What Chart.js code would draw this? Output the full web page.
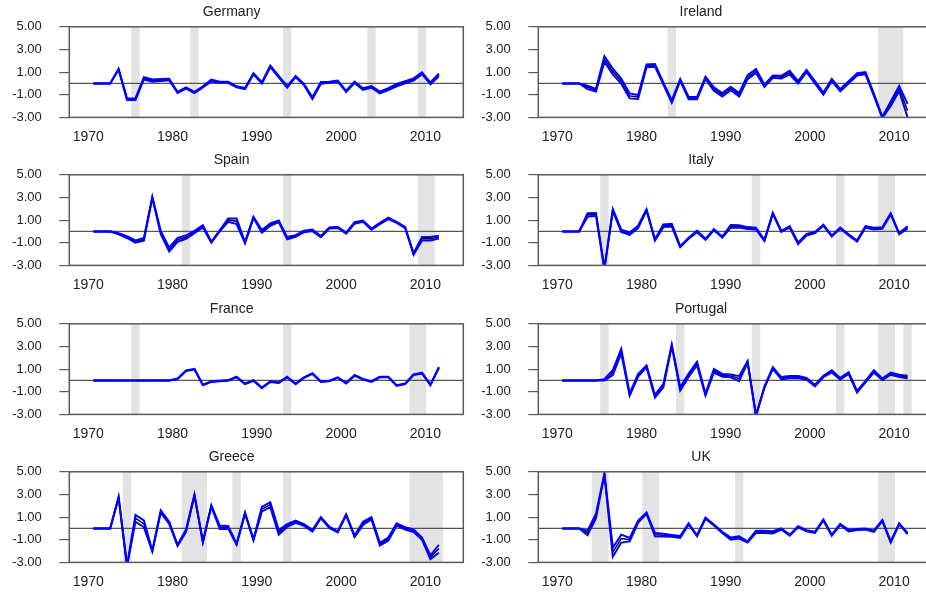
<!DOCTYPE html>
<html>
<head>
<meta charset="utf-8">
<script src="https://cdn.jsdelivr.net/npm/chart.js@4.4.1/dist/chart.umd.min.js"></script>
<style>
  html, body { margin: 0; padding: 0; background: #fff; }
  #wrap { position: relative; width: 926px; height: 594px; overflow: hidden; }
  #wrap canvas { position: absolute; }
</style>
</head>
<body>
<div id="wrap"></div>
<script>
// data
const years = [1971, 1972, 1973, 1974, 1975, 1976, 1977, 1978, 1979, 1980,
  1981, 1982, 1983, 1984, 1985, 1986, 1987, 1988, 1989, 1990,
  1991, 1992, 1993, 1994, 1995, 1996, 1997, 1998, 1999, 2000,
  2001, 2002, 2003, 2004, 2005, 2006, 2007, 2008, 2009, 2010,
  2011, 2012];
const xTickLabels = [1970, 1980, 1990, 2000, 2010];
const countries = ['Germany', 'Ireland', 'Spain', 'Italy', 'France', 'Portugal', 'Greece', 'UK'];

// centre line of each panel
const germany = [0, 0, 0, 1.25, -1.4, -1.4, 0.45, 0.25, 0.3, 0.35,
  -0.8, -0.4, -0.8, -0.3, 0.25, 0.1, 0.1, -0.3, -0.45, 0.85,
  0.05, 1.5, 0.6, -0.3, 0.6, -0.1, -1.3, 0.05, 0.1, 0.2,
  -0.7, 0.1, -0.5, -0.3, -0.8, -0.5, -0.15, 0.1, 0.35, 0.9,
  0.0, 0.75];
const ireland = [0, 0, 0, -0.35, -0.6, 2.15, 1.05, 0.2, -1.1, -1.2,
  1.55, 1.6, 0.0, -1.6, 0.3, -1.3, -1.3, 0.5, -0.5, -1.0,
  -0.45, -1.0, 0.55, 1.1, -0.2, 0.6, 0.55, 0.95, 0.1, 1.1,
  0.1, -0.9, 0.3, -0.6, 0.1, 0.8, 0.9, -1.0, -3.0, -1.8,
  -0.45, -2.4];
const spain = [0, 0, 0, -0.2, -0.5, -0.9, -0.7, 3.0, -0.1, -1.6,
  -0.75, -0.5, -0.05, 0.45, -0.95, 0.05, 1.0, 0.9, -1.0, 1.25,
  0.0, 0.6, 0.9, -0.6, -0.4, 0.0, 0.1, -0.45, 0.3, 0.35,
  -0.15, 0.75, 0.9, 0.2, 0.7, 1.15, 0.8, 0.35, -2.0, -0.65,
  -0.65, -0.5];
const italy = [0, 0, 0, 1.45, 1.5, -3.3, 1.9, 0.05, -0.2, 0.4,
  1.9, -0.75, 0.5, 0.55, -1.35, -0.6, 0.0, -0.7, 0.15, -0.5,
  0.45, 0.45, 0.3, 0.25, -0.8, 1.6, 0.0, 0.4, -1.05, -0.3,
  -0.1, 0.55, -0.4, 0.3, -0.3, -0.85, 0.4, 0.25, 0.3, 1.55,
  -0.2, 0.35];
const france = [0, 0, 0, 0, 0, 0, 0, 0, 0, 0,
  0.15, 0.85, 1.0, -0.4, -0.1, -0.05, 0.0, 0.3, -0.3, 0.0,
  -0.65, -0.1, -0.2, 0.3, -0.3, 0.25, 0.6, -0.1, -0.05, 0.25,
  -0.25, 0.45, 0.1, -0.1, 0.3, 0.3, -0.45, -0.3, 0.5, 0.65,
  -0.4, 1.15];
const portugal = [0, 0, 0, 0, 0, 0.05, 0.7, 2.6, -1.25, 0.45,
  1.25, -1.4, -0.45, 3.1, -0.75, 0.45, 1.5, -1.25, 0.85, 0.45,
  0.4, 0.15, 1.65, -3.1, -0.6, 1.1, 0.2, 0.3, 0.3, 0.15,
  -0.45, 0.35, 0.8, 0.15, 0.65, -1.0, -0.1, 0.8, 0.1, 0.6,
  0.4, 0.3];
const greece = [0, 0, 0, 2.75, -3.3, 0.9, 0.4, -2.0, 1.5, 0.5,
  -1.5, -0.2, 2.95, -1.2, 2.0, 0.1, 0.1, -1.4, 1.35, -1.0,
  1.7, 2.1, -0.35, 0.25, 0.6, 0.3, -0.2, 0.95, 0.1, -0.3,
  1.2, -0.7, 0.45, 0.9, -1.4, -0.95, 0.35, 0.0, -0.2, -0.9,
  -2.55, -1.8];
const uk = [0, 0, 0, -0.4, 1.1, 4.8, -2.1, -0.9, -1.0, 0.6,
  1.35, -0.55, -0.6, -0.65, -0.75, 0.4, -0.65, 0.9, 0.3, -0.35,
  -0.9, -0.8, -1.2, -0.3, -0.3, -0.35, -0.05, -0.6, 0.15, -0.2,
  -0.35, 0.75, -0.6, 0.35, -0.2, -0.1, -0.05, -0.25, 0.7, -1.2,
  0.4, -0.45];

// half width of the blue band around each centre line
const germanyBand = [0, 0, 0, 0.05, 0.07, 0.07, 0.1, 0.1, 0.08, 0.06,
  0.05, 0.05, 0.05, 0.05, 0.08, 0.05, 0.05, 0.05, 0.05, 0.05,
  0.05, 0.07, 0.07, 0.07, 0.05, 0.05, 0.07, 0.07, 0.05, 0.05,
  0.05, 0.05, 0.07, 0.07, 0.07, 0.08, 0.1, 0.1, 0.1, 0.08,
  0.08, 0.12];
const irelandBand = [0, 0, 0, 0.15, 0.12, 0.25, 0.25, 0.22, 0.22, 0.18,
  0.12, 0.12, 0.1, 0.1, 0.08, 0.1, 0.1, 0.1, 0.15, 0.15,
  0.15, 0.15, 0.17, 0.17, 0.1, 0.1, 0.12, 0.17, 0.1, 0.1,
  0.1, 0.1, 0.1, 0.1, 0.1, 0.1, 0.1, 0.1, 0.05, 0.2,
  0.22, 0.6];
const spainBand = [0, 0, 0.02, 0.05, 0.08, 0.1, 0.12, 0.05, 0.15, 0.17,
  0.17, 0.15, 0.1, 0.1, 0.05, 0.05, 0.15, 0.25, 0.05, 0.05,
  0.12, 0.1, 0.07, 0.1, 0.07, 0.07, 0.07, 0.05, 0.05, 0.05,
  0.05, 0.07, 0.05, 0.05, 0.05, 0.07, 0.05, 0.05, 0.07, 0.15,
  0.15, 0.12];
const italyBand = [0, 0, 0, 0.15, 0.12, 0.05, 0.08, 0.1, 0.1, 0.1,
  0.05, 0.05, 0.12, 0.12, 0.05, 0.05, 0.07, 0.05, 0.05, 0.05,
  0.12, 0.1, 0.08, 0.08, 0.05, 0.05, 0.05, 0.07, 0.07, 0.07,
  0.05, 0.05, 0.05, 0.05, 0.05, 0.05, 0.07, 0.07, 0.07, 0.05,
  0.05, 0.1];
const franceBand = [0, 0, 0, 0, 0, 0, 0, 0, 0, 0,
  0.03, 0.03, 0.03, 0.03, 0.03, 0.03, 0.03, 0.03, 0.03, 0.03,
  0.03, 0.03, 0.03, 0.03, 0.03, 0.03, 0.03, 0.03, 0.03, 0.03,
  0.03, 0.03, 0.03, 0.03, 0.03, 0.03, 0.03, 0.03, 0.03, 0.03,
  0.03, 0.03];
const portugalBand = [0, 0, 0, 0, 0, 0.05, 0.22, 0.2, 0.1, 0.12,
  0.08, 0.12, 0.15, 0.07, 0.15, 0.15, 0.15, 0.07, 0.15, 0.12,
  0.12, 0.22, 0.07, 0.05, 0.05, 0.07, 0.1, 0.1, 0.1, 0.07,
  0.07, 0.07, 0.1, 0.07, 0.07, 0.07, 0.07, 0.1, 0.07, 0.1,
  0.1, 0.12];
const greeceBand = [0, 0, 0, 0.05, 0.05, 0.3, 0.3, 0.05, 0.1, 0.1,
  0.05, 0.1, 0.05, 0.05, 0.05, 0.15, 0.12, 0.05, 0.05, 0.05,
  0.2, 0.22, 0.2, 0.12, 0.1, 0.07, 0.07, 0.05, 0.05, 0.05,
  0.05, 0.07, 0.15, 0.1, 0.12, 0.15, 0.1, 0.1, 0.12, 0.1,
  0.17, 0.35];
const ukBand = [0, 0, 0, 0.2, 0.2, 0.05, 0.4, 0.35, 0.15, 0.1,
  0.05, 0.15, 0.12, 0.08, 0.08, 0.05, 0.05, 0.05, 0.05, 0.05,
  0.1, 0.1, 0.05, 0.1, 0.1, 0.1, 0.05, 0.05, 0.05, 0.05,
  0.05, 0.05, 0.05, 0.05, 0.07, 0.05, 0.05, 0.05, 0.05, 0.05,
  0.05, 0.05];

// shaded years (first, last) per panel
const germanyShade = [[1976, 1976], [1983, 1983], [1994, 1994], [2004, 2004], [2010, 2010]];
const irelandShade = [[1984, 1984], [2009, 2011]];
const spainShade = [[1982, 1982], [1994, 1994], [2010, 2011]];
const italyShade = [[1976, 1976], [1994, 1994], [2004, 2004], [2009, 2010]];
const franceShade = [[1976, 1976], [1994, 1994], [2009, 2010]];
const portugalShade = [[1976, 1976], [1985, 1985], [1994, 1994], [2004, 2004], [2009, 2010], [2012, 2012]];
const greeceShade = [[1975, 1975], [1982, 1984], [1988, 1988], [1994, 1994], [2009, 2012]];
const ukShade = [[1975, 1976], [1981, 1982], [1992, 1992], [2009, 2010]];

const panels = [
  { values: germany, band: germanyBand, shade: germanyShade },
  { values: ireland, band: irelandBand, shade: irelandShade },
  { values: spain, band: spainBand, shade: spainShade },
  { values: italy, band: italyBand, shade: italyShade },
  { values: france, band: franceBand, shade: franceShade },
  { values: portugal, band: portugalBand, shade: portugalShade },
  { values: greece, band: greeceBand, shade: greeceShade },
  { values: uk, band: ukBand, shade: ukShade }
];

Chart.defaults.font.family = "'Liberation Sans', Arial, sans-serif";

// recession shading, zero line and box around the plot
const panelDecor = {
  id: 'panelDecor',
  beforeDatasetsDraw(chart, args, opts) {
    const { ctx, chartArea: a, scales: { x, y } } = chart;
    ctx.save();
    ctx.fillStyle = '#e3e3e3';
    opts.shade.forEach(([s, e]) => {
      const x0 = x.getPixelForValue(s - 0.5);
      const x1 = x.getPixelForValue(e + 0.5);
      ctx.fillRect(x0, a.top, x1 - x0, a.bottom - a.top);
    });
    const y0 = y.getPixelForValue(0);
    ctx.strokeStyle = '#555';
    ctx.lineWidth = 1.3;
    ctx.beginPath();
    ctx.moveTo(a.left, y0);
    ctx.lineTo(a.right, y0);
    ctx.stroke();
    ctx.restore();
  },
  afterDatasetsDraw(chart) {
    const { ctx, chartArea: a } = chart;
    ctx.save();
    ctx.strokeStyle = '#5a5a5a';
    ctx.lineWidth = 1.5;
    ctx.strokeRect(a.left, a.top, a.right - a.left, a.bottom - a.top);
    ctx.restore();
  }
};

const wrap = document.getElementById('wrap');
const rowTops = [0, 148, 297, 445];

panels.forEach((p, i) => {
  const col = i % 2;
  const row = Math.floor(i / 2);
  const canvas = document.createElement('canvas');
  canvas.width = col ? 462 : 465;
  canvas.height = 148;
  canvas.style.left = (col ? 470 : 0) + 'px';
  canvas.style.top = rowTops[row] + 'px';
  wrap.appendChild(canvas);

  const pts = arr => arr.map((v, k) => ({ x: years[k], y: v }));
  const upper = p.values.map((v, k) => v + p.band[k]);
  const lower = p.values.map((v, k) => v - p.band[k]);

  new Chart(canvas, {
    type: 'line',
    data: {
      datasets: [
        { data: pts(upper), borderColor: '#0000ff', borderWidth: 2 },
        { data: pts(lower), borderColor: '#0000ff', borderWidth: 2 },
        { data: pts(p.values), borderColor: '#000000', borderWidth: 1.4 }
      ]
    },
    options: {
      responsive: false,
      animation: false,
      devicePixelRatio: 1,
      layout: { padding: { left: 0, right: col ? 0 : 1.7, top: 0, bottom: 0 } },
      elements: { point: { radius: 0 }, line: { tension: 0, fill: false } },
      plugins: {
        legend: { display: false },
        tooltip: { enabled: false },
        title: {
          display: true,
          text: countries[i],
          color: '#222',
          font: { size: 14, weight: 'normal' },
          padding: { top: 3.5, bottom: 6.5 }
        },
        panelDecor: { shade: p.shade }
      },
      scales: {
        x: {
          type: 'linear',
          bounds: 'data',
          min: 1968.15,
          max: 2014.9,
          grid: { display: false, drawTicks: false },
          border: { display: false },
          afterBuildTicks: s => { s.ticks = xTickLabels.map(v => ({ value: v + 0.4 })); },
          afterFit: s => { s.height = 30.6; },
          ticks: {
            autoSkip: false,
            maxRotation: 0,
            padding: 11,
            color: '#222',
            font: { size: 14 },
            callback: (v, idx) => String(xTickLabels[idx])
          }
        },
        y: {
          min: -3,
          max: 5,
          afterFit: s => { s.width = col ? 68.3 : 69.3; },
          grid: { drawOnChartArea: false, drawTicks: true, tickLength: 10, color: '#5a5a5a', lineWidth: 1.2 },
          border: { display: false },
          ticks: {
            stepSize: 1,
            padding: 17.5,
            color: '#222',
            font: { size: 13 },
            callback: v => (Math.abs(v % 2) === 1 ? v.toFixed(2) : '')
          }
        }
      }
    },
    plugins: [panelDecor]
  });
});
</script>
</body>
</html>
